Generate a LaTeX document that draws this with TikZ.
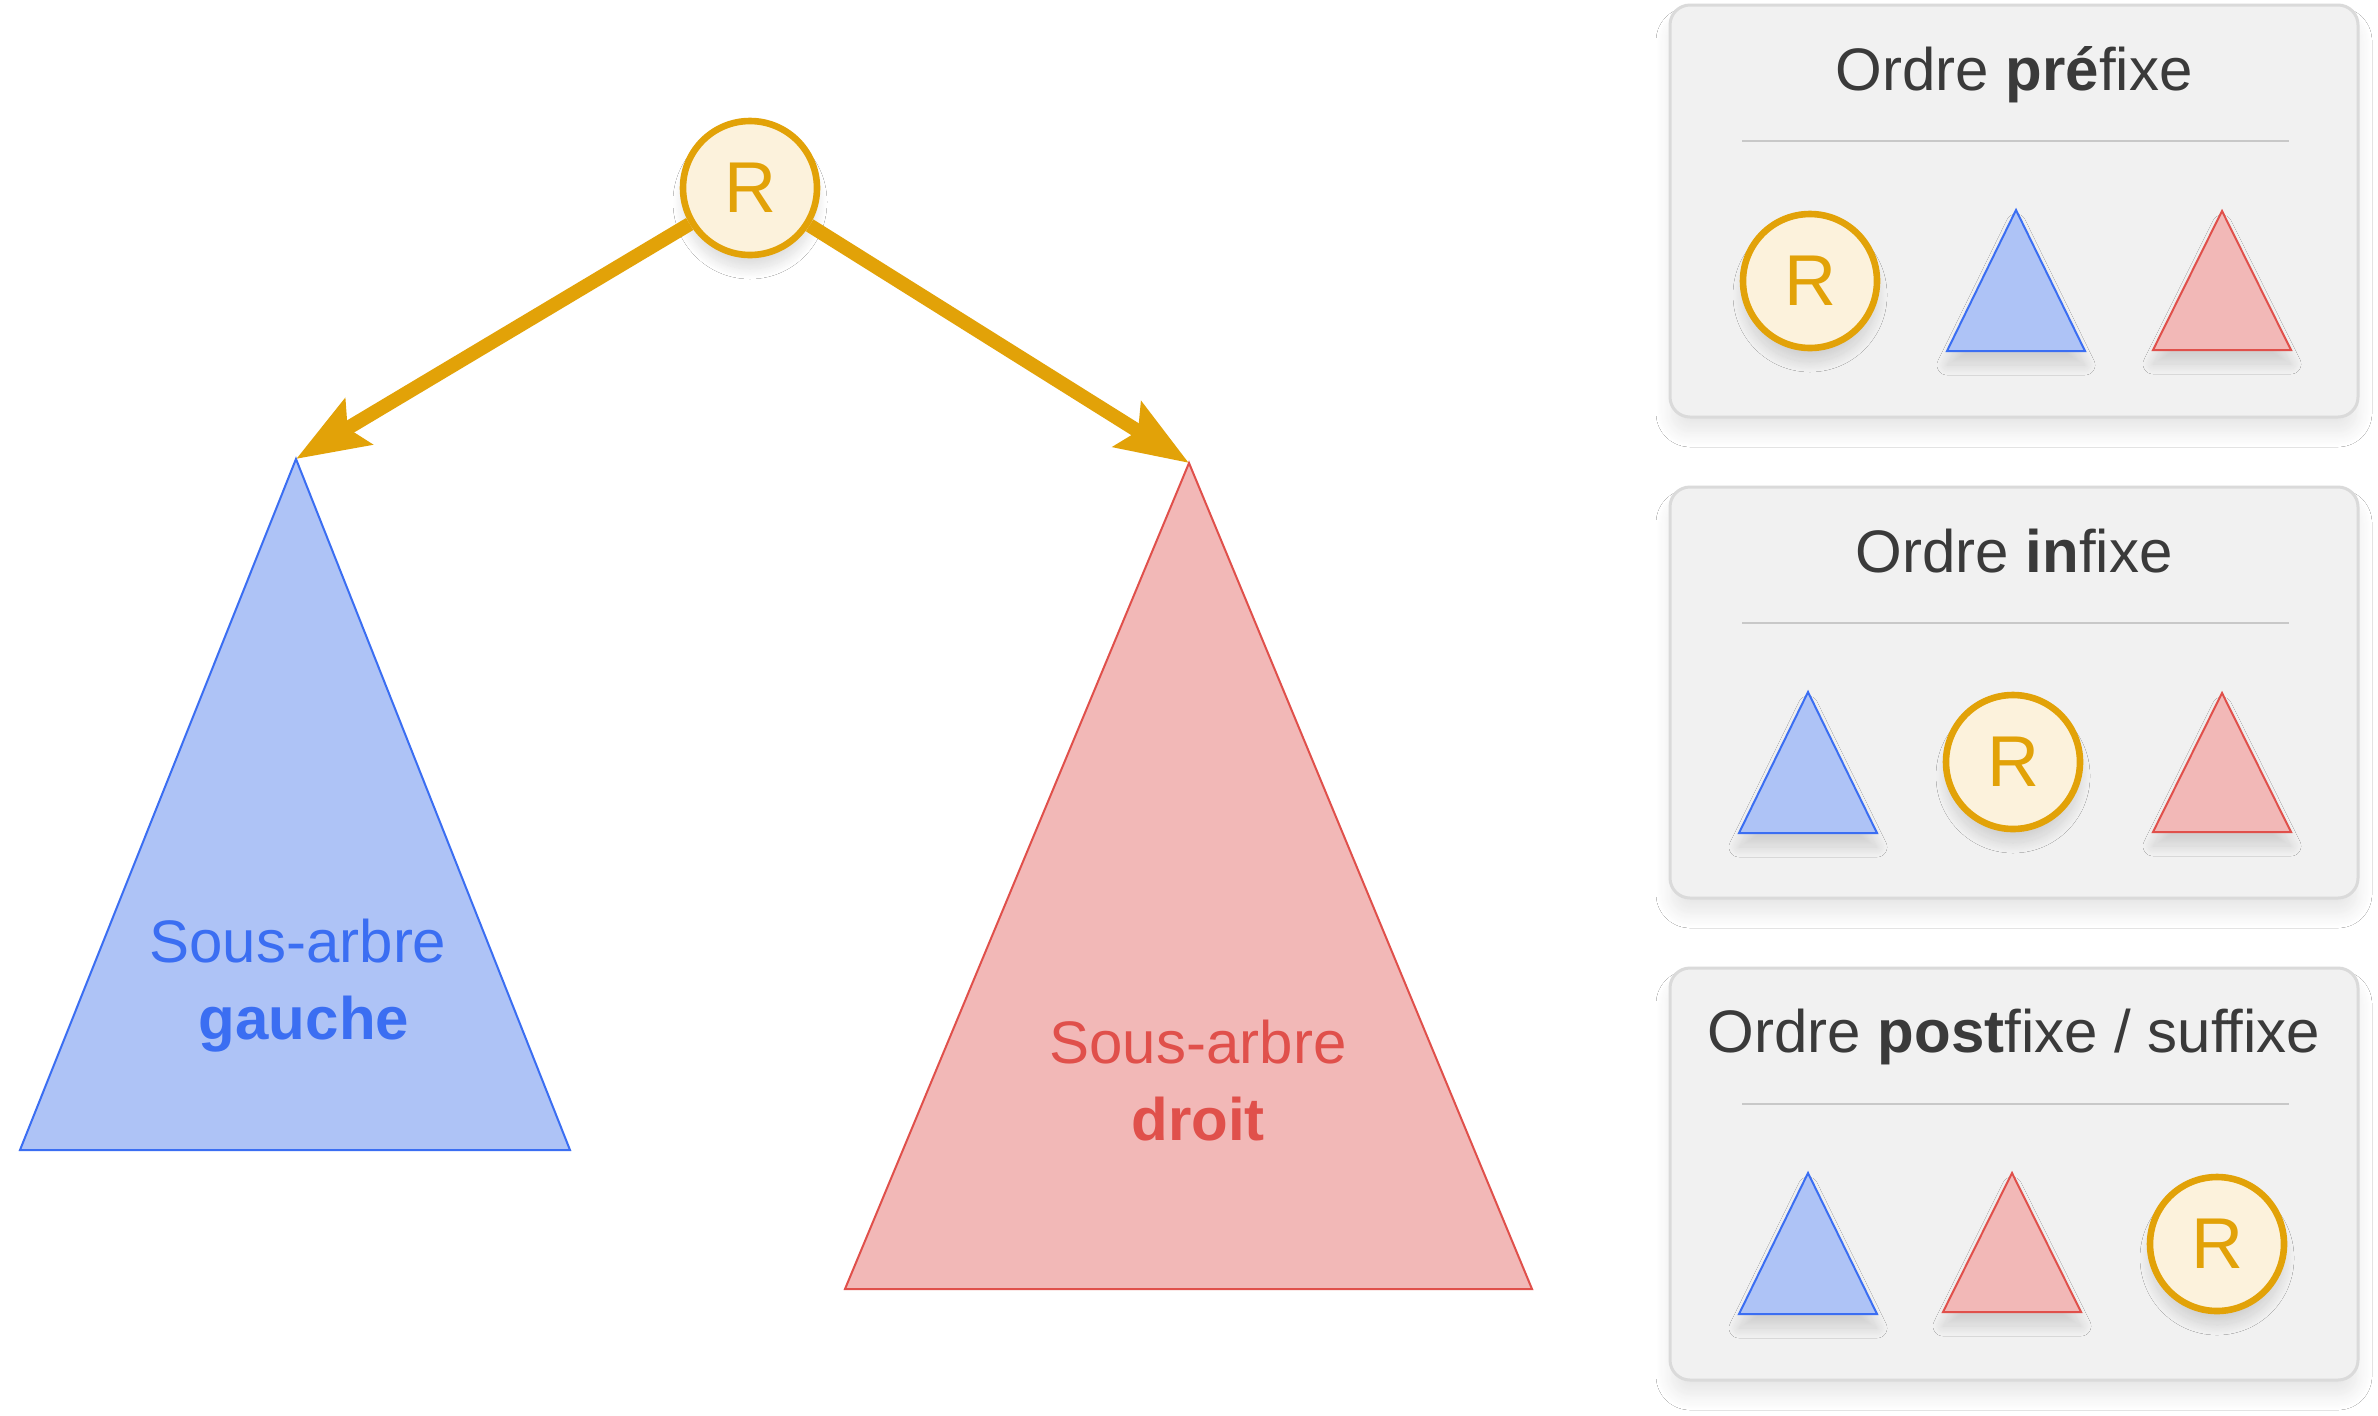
\documentclass[tikz,border=0pt]{standalone}
\usepackage{fontspec}
\setmainfont{Liberation Sans}
\usetikzlibrary{arrows.meta,shadows.blur}
\definecolor{gold}{HTML}{E2A208}
\definecolor{goldfill}{HTML}{FCF2DC}
\definecolor{bluestroke}{HTML}{3B6EF2}
\definecolor{bluefill}{HTML}{AEC3F6}
\definecolor{redstroke}{HTML}{E0504B}
\definecolor{redfill}{HTML}{F2B8B7}
\definecolor{titlegray}{HTML}{3A3A3A}
\definecolor{panelfill}{HTML}{F1F1F1}
\definecolor{panelborder}{HTML}{DADADA}
\definecolor{sepgray}{HTML}{C8C8C8}
\tikzset{
  softshadow/.style={blur shadow={shadow xshift=0pt, shadow yshift=-7pt, shadow blur radius=5pt, shadow blur steps=12, shadow opacity=13}},
  rootnode/.style={circle, draw=gold, line width=3.3pt, fill=goldfill, minimum size=67pt, inner sep=0pt,
    text=gold, font=\fontsize{36}{40}\selectfont, softshadow},
  bluetri/.style={draw=bluestroke, line width=1pt, fill=bluefill, line join=miter},
  redtri/.style={draw=redstroke, line width=1pt, fill=redfill, line join=miter},
  conn/.style={draw=gold, line width=7pt, -{Stealth[length=36pt, width=26pt, inset=6pt]}},
  bluelabel/.style={text=bluestroke, font=\fontsize{30}{36}\selectfont, anchor=base, inner sep=0pt},
  redlabel/.style={text=redstroke, font=\fontsize{30}{36}\selectfont, anchor=base, inner sep=0pt},
  paneltitle/.style={text=titlegray, font=\fontsize{30}{36}\selectfont, anchor=base, inner sep=0pt},
  panelbox/.style={draw=panelborder, line width=1.5pt, fill=panelfill, rounded corners=10pt,
    blur shadow={shadow xshift=0pt, shadow yshift=-8pt, shadow blur radius=7pt, shadow blur steps=14, shadow opacity=9}},
  sepline/.style={draw=sepgray, line width=1.2pt},
}
\newcommand\mybluetri[2]{\draw[bluetri, softshadow] (#1,#2) -- ++(69,141) -- ++(-138,0) -- cycle;}
\newcommand\myredtri[2]{\draw[redtri, softshadow] (#1,#2) -- ++(69,139) -- ++(-138,0) -- cycle;}
\begin{document}
\begin{tikzpicture}[x=0.5pt,y=-0.5pt]
\useasboundingbox[fill=white] (0,0) rectangle (2378,1415);

% main tree
\coordinate (ltop) at (296,459);
\coordinate (rtop) at (1189,463);
\draw[bluetri] (ltop) -- (570,1150) -- (20,1150) -- cycle;
\draw[redtri] (rtop) -- (1532,1289) -- (845,1289) -- cycle;
\node[bluelabel] (ls1) at (298,962) {Sous-arbre};
\node[bluelabel] (ls2) at (304,1039) {\textbf{gauche}};
\node[redlabel] (rs1) at (1198,1063) {Sous-arbre};
\node[redlabel] (rs2) at (1198,1140) {\textbf{droit}};
\node[rootnode] (root) at (750,188) {R};
\draw[conn] (root) -- (ltop);
\draw[conn] (root) -- (rtop);

% panel 1
\draw[panelbox] (1670,5) rectangle (2358,417);
\node[paneltitle] (t1) at (2014,90) {Ordre \textbf{pré}fixe};
\draw[sepline] (1742,141) -- (2289,141);
\node[rootnode] (p1r) at (1810,281) {R};
\mybluetri{2016}{210}
\myredtri{2222}{211}

% panel 2
\draw[panelbox] (1670,487) rectangle (2358,898);
\node[paneltitle] (t2) at (2014,572) {Ordre \textbf{in}fixe};
\draw[sepline] (1742,623) -- (2289,623);
\mybluetri{1808}{692}
\node[rootnode] (p2r) at (2013,762) {R};
\myredtri{2222}{693}

% panel 3
\draw[panelbox] (1670,968) rectangle (2358,1380);
\node[paneltitle] (t3) at (2014,1052) {Ordre \textbf{post}fixe / suffixe};
\draw[sepline] (1742,1104) -- (2289,1104);
\mybluetri{1808}{1173}
\myredtri{2012}{1173}
\node[rootnode] (p3r) at (2217,1244) {R};
\end{tikzpicture}
\end{document}
